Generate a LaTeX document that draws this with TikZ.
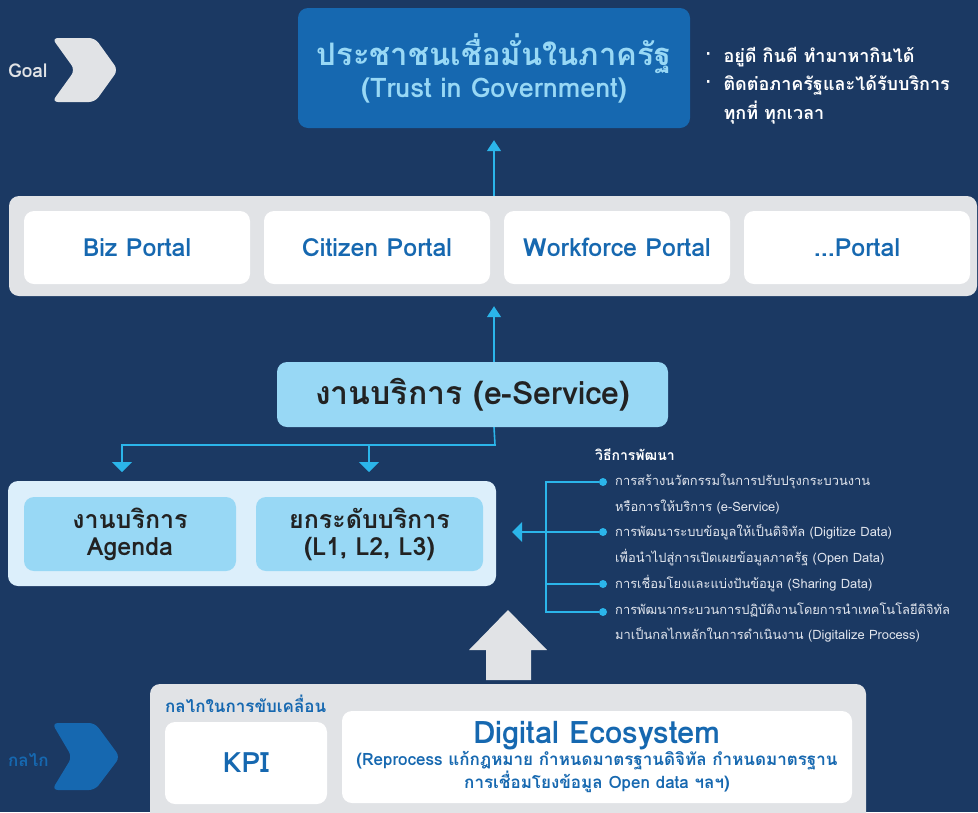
\documentclass[tikz,border=0pt]{standalone}
\usepackage{fontspec}
\usepackage{tikz}
\usetikzlibrary{arrows.meta}
\newfontfamily\thai[Script=Thai]{Loma}
\definecolor{navy}{RGB}{27,57,99}
\definecolor{goalblue}{RGB}{22,104,176}
\definecolor{skyblue}{RGB}{152,216,245}
\definecolor{paleblue}{RGB}{220,239,251}
\definecolor{cyanline}{RGB}{43,181,234}
\definecolor{bargrey}{RGB}{225,227,230}
\definecolor{inktext}{RGB}{34,34,34}
\definecolor{softwhite}{RGB}{226,230,238}

\begin{document}
\begin{tikzpicture}[x=1pt,y=-1pt,
  box/.style={rectangle,rounded corners=10pt,inner sep=0pt,align=center},
  portal/.style={box,fill=white,text=goalblue,minimum width=226pt,minimum height=73pt,
    font=\thai\bfseries\fontsize{25}{28}\selectfont},
  service/.style={box,fill=skyblue,text=inktext,minimum height=74pt,
    font=\thai\bfseries\fontsize{25}{27}\selectfont},
  note/.style={anchor=west,inner sep=0pt,text=softwhite,font=\thai\fontsize{12.9}{15}\selectfont},
  link/.style={draw=cyanline,line width=1.6pt},
  flow/.style={link,-{Triangle[width=14pt,length=11pt]}},
  drop/.style={link,-{Triangle[width=20pt,length=10pt]}},
  dot/.style={circle,fill=cyanline,inner sep=0pt,minimum size=8pt}]
\useasboundingbox (0,0) rectangle (978,812);
\fill[navy] (0,0) rectangle (978,812);

% goal row
\path[fill=bargrey,rounded corners=6pt] (52,38) -- (95,38) -- (118,70) -- (95,102) -- (52,102) -- (75,70) -- cycle;
\node[anchor=west,inner sep=0pt,text=bargrey,font=\thai\bfseries\fontsize{19}{21}\selectfont] (goallbl) at (8,71) {Goal};
\node[box,fill=goalblue,text=skyblue,minimum width=392pt,minimum height=120pt] (goal) at (494,68)
  {{\thai\bfseries\fontsize{31}{38}\selectfont ประชาชนเชื่อมั่นในภาครัฐ}\\[3pt]
   {\thai\bfseries\fontsize{27}{32}\selectfont (Trust in Government)}};
\node[anchor=north west,inner sep=0pt,align=left,text=white,font=\thai\bfseries\fontsize{18}{28.5}\selectfont] (goalnote) at (705,47)
  {·\hspace{12pt}อยู่ดี กินดี ทำมาหากินได้\\
   ·\hspace{12pt}ติดต่อภาครัฐและได้รับบริการ\\
   \hphantom{·}\hspace{12pt}ทุกที่ ทุกเวลา};

% portals
\node[box,fill=bargrey,minimum width=968pt,minimum height=100pt] (bar) at (493,246) {};
\node[portal] (biz) at (137,247.5) {Biz Portal};
\node[portal] (citizen) at (377,247.5) {Citizen Portal};
\node[portal] (workforce) at (617,247.5) {Workforce Portal};
\node[portal] (other) at (857,247.5) {...Portal};
\draw[flow,shorten >=12pt] (goal.south |- bar.north) -- (goal.south);

% e-service
\node[box,fill=skyblue,text=inktext,minimum width=391pt,minimum height=65pt,
  font=\thai\bfseries\fontsize{32}{34}\selectfont] (eserv) at (472.5,394.5) {งานบริการ (e-Service)};
\draw[flow,shorten >=10pt] (goal.south |- eserv.north) -- (goal.south |- bar.south);

\node[box,fill=paleblue,minimum width=488pt,minimum height=105pt] (outer) at (252,533.5) {};
\node[service,minimum width=212pt] (agenda) at (130,534) {งานบริการ\\Agenda};
\node[service,minimum width=227pt] (level) at (369.5,534) {ยกระดับบริการ\\(L1, L2, L3)};
\coordinate (split) at (495,445);
\coordinate (tipA) at (122,481);
\coordinate (tipB) at (369,481);
\draw[drop,shorten >=9pt] (goal.south |- eserv.south) -- (split) -| (tipA);
\draw[drop,shorten >=9pt] (tipB |- split) -- (tipB);

% development approaches
\node[anchor=west,inner sep=0pt,text=white,font=\thai\bfseries\fontsize{14}{16}\selectfont] (howto) at (595,455) {วิธีการพัฒนา};
\node[dot] (d1) at (603,482) {};
\node[dot] (d2) at (603,532) {};
\node[dot] (d3) at (603,584) {};
\node[dot] (d4) at (603,612) {};
\coordinate (brk) at (546,532);
\draw[link] (d1) -| (brk) |- (d4);
\draw[link] (brk) |- (d3);
\draw[drop,shorten >=16pt] (d2) -- (d2 -| outer.east);
\node[note] (n1a) at (615,481) {การสร้างนวัตกรรมในการปรับปรุงกระบวนงาน};
\node[note] (n1b) at (615,507) {หรือการให้บริการ (e-Service)};
\node[note] (n2a) at (615,532) {การพัฒนาระบบข้อมูลให้เป็นดิจิทัล (Digitize Data)};
\node[note] (n2b) at (615,558) {เพื่อนำไปสู่การเปิดเผยข้อมูลภาครัฐ (Open Data)};
\node[note] (n3a) at (615,584) {การเชื่อมโยงและแบ่งปันข้อมูล (Sharing Data)};
\node[note] (n4a) at (615,610) {การพัฒนากระบวนการปฏิบัติงานโดยการนำเทคโนโลยีดิจิทัล};
\node[note] (n4b) at (615,635) {มาเป็นกลไกหลักในการดำเนินงาน (Digitalize Process)};

% mechanism
\path[fill=bargrey] (508,610) -- (547,650) -- (531,650) -- (531,680) -- (486,680) -- (486,650) -- (469,650) -- cycle;
\node[box,fill=bargrey,minimum width=716pt,minimum height=140pt] (mech) at (508,754) {};
\node[anchor=west,inner sep=0pt,text=goalblue,font=\thai\bfseries\fontsize{17}{19}\selectfont] (mechlbl) at (165,704) {กลไกในการขับเคลื่อน};
\node[box,fill=white,text=goalblue,minimum width=162pt,minimum height=82pt,
  font=\thai\bfseries\fontsize{28}{30}\selectfont] (kpi) at (246,763) {KPI};
\node[box,fill=white,text=goalblue,minimum width=510pt,minimum height=92pt] (eco) at (597,757)
  {{\thai\bfseries\fontsize{31}{36}\selectfont Digital Ecosystem}\\[0pt]
   {\thai\bfseries\fontsize{17}{22}\selectfont (Reprocess แก้กฎหมาย กำหนดมาตรฐานดิจิทัล กำหนดมาตรฐาน}\\
   {\thai\bfseries\fontsize{17}{22}\selectfont การเชื่อมโยงข้อมูล Open data ฯลฯ)}};
\path[fill=goalblue,rounded corners=6pt] (52,723) -- (95,723) -- (120,757) -- (95,790) -- (52,790) -- (72,757) -- cycle;
\node[anchor=west,inner sep=0pt,text=goalblue,font=\thai\bfseries\fontsize{17}{19}\selectfont] (mechtag) at (8,760) {กลไก};
\end{tikzpicture}
\end{document}
